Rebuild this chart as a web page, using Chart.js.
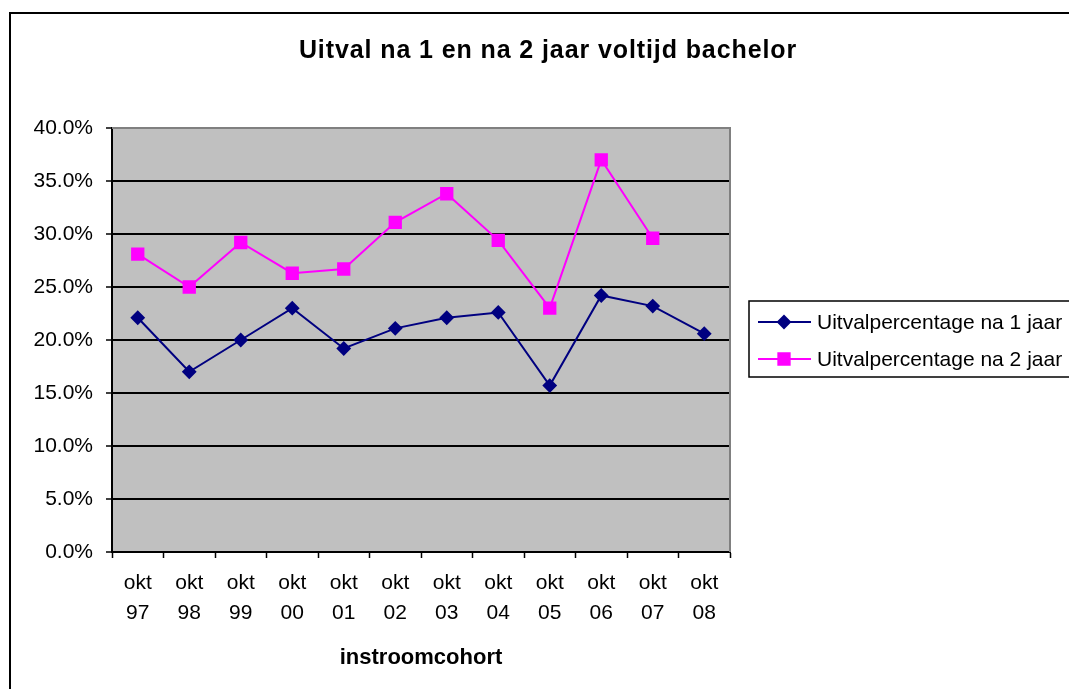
<!DOCTYPE html>
<html>
<head>
<meta charset="utf-8">
<title>Uitval na 1 en na 2 jaar voltijd bachelor</title>
<script src="https://cdn.jsdelivr.net/npm/chart.js@4.4.1/dist/chart.umd.min.js"></script>
<style>
  body { margin: 0; background: #fff; }
  #wrap { width: 1069px; height: 689px; }
</style>
</head>
<body>
<div id="wrap"><canvas id="uitvalChart" width="1069" height="689"></canvas></div>
<script>
// cohorts on the x axis, each label is two lines
const cohorts = [
  ['okt', '97'], ['okt', '98'], ['okt', '99'], ['okt', '00'], ['okt', '01'], ['okt', '02'],
  ['okt', '03'], ['okt', '04'], ['okt', '05'], ['okt', '06'], ['okt', '07'], ['okt', '08']
];

// dropout percentages
const uitvalNa1Jaar = [22.1, 17.0, 20.0, 23.0, 19.2, 21.1, 22.1, 22.6, 15.7, 24.2, 23.2, 20.6];
const uitvalNa2Jaar = [28.1, 25.0, 29.2, 26.3, 26.7, 31.1, 33.8, 29.4, 23.0, 37.0, 29.6, null];

const seriesLabels = ['Uitvalpercentage na 1 jaar', 'Uitvalpercentage na 2 jaar'];
const chartTitle = 'Uitval na 1 en na 2 jaar voltijd bachelor';
const xTitle = 'instroomcohort';

const yMin = 0;
const yMax = 40;
const yStep = 5;

const fontFamily = 'Arial, "Liberation Sans", sans-serif';

// grey plot background, grey top/right edge, outer frame and the title
const framePlugin = {
  id: 'frame',
  beforeDraw(chart) {
    const { ctx, chartArea: a } = chart;
    ctx.save();
    ctx.fillStyle = '#C0C0C0';
    ctx.fillRect(a.left, a.top, a.right - a.left, a.bottom - a.top);
    ctx.restore();
  },
  afterDraw(chart) {
    const { ctx, chartArea: a } = chart;
    ctx.save();
    // grey edge top and right of the plot
    ctx.strokeStyle = '#808080';
    ctx.lineWidth = 2;
    ctx.beginPath();
    ctx.moveTo(a.left, a.top);
    ctx.lineTo(a.right, a.top);
    ctx.lineTo(a.right, a.bottom);
    ctx.stroke();

    // outer chart frame (only left and top are in view)
    ctx.strokeStyle = '#000';
    ctx.lineWidth = 2;
    ctx.beginPath();
    ctx.moveTo(10, 700);
    ctx.lineTo(10, 13);
    ctx.lineTo(1080, 13);
    ctx.stroke();

    // title, excel spreads the bold letters a bit
    ctx.fillStyle = '#000';
    ctx.font = 'bold 25px ' + fontFamily;
    ctx.letterSpacing = '0.9px';
    ctx.textAlign = 'center';
    ctx.textBaseline = 'middle';
    ctx.fillText(chartTitle, 548, 51);
    ctx.restore();
  }
};

// legend box on the right, same look as excel
const legendPlugin = {
  id: 'excelLegend',
  afterDraw(chart) {
    const ctx = chart.ctx;
    ctx.save();
    ctx.strokeStyle = '#000';
    ctx.lineWidth = 1.5;
    ctx.strokeRect(749, 301, 340, 76);

    chart.data.datasets.forEach((ds, i) => {
      const y = 322 + i * 37;
      ctx.strokeStyle = ds.borderColor;
      ctx.lineWidth = 2;
      ctx.beginPath();
      ctx.moveTo(758, y);
      ctx.lineTo(811, y);
      ctx.stroke();

      ctx.fillStyle = ds.pointBackgroundColor;
      ctx.strokeStyle = ds.pointBorderColor;
      Chart.helpers.drawPoint(ctx, {
        pointStyle: ds.pointStyle,
        radius: ds.pointRadius,
        rotation: 0,
        borderWidth: 1
      }, 784, y);

      ctx.fillStyle = '#000';
      ctx.font = '21px ' + fontFamily;
      ctx.textAlign = 'left';
      ctx.textBaseline = 'middle';
      ctx.fillText(ds.label, 817, y + 1);
    });
    ctx.restore();
  }
};

const canvas = document.getElementById('uitvalChart');

new Chart(canvas, {
  type: 'line',
  data: {
    labels: cohorts,
    datasets: [
      {
        label: seriesLabels[0],
        data: uitvalNa1Jaar,
        borderColor: '#000080',
        backgroundColor: '#000080',
        pointBackgroundColor: '#000080',
        pointBorderColor: '#000080',
        pointStyle: 'rectRot',
        pointRadius: 6,
        borderWidth: 2,
        tension: 0
      },
      {
        label: seriesLabels[1],
        data: uitvalNa2Jaar,
        borderColor: '#FF00FF',
        backgroundColor: '#FF00FF',
        pointBackgroundColor: '#FF00FF',
        pointBorderColor: '#FF00FF',
        pointStyle: 'rect',
        pointRadius: 8,
        borderWidth: 2,
        tension: 0
      }
    ]
  },
  options: {
    responsive: false,
    animation: false,
    devicePixelRatio: 1,
    layout: {
      padding: { left: 0, top: 128, right: 339, bottom: 18 }
    },
    plugins: {
      legend: { display: false },
      title: { display: false },
      tooltip: { enabled: false }
    },
    scales: {
      x: {
        offset: true,
        grid: {
          offset: true,
          drawOnChartArea: false,
          drawTicks: true,
          tickLength: 6,
          tickColor: '#000',
          tickWidth: 1.5
        },
        border: { color: '#000', width: 2 },
        ticks: {
          color: '#000',
          padding: 10,
          maxRotation: 0,
          autoSkip: false,
          font: { family: fontFamily, size: 21, lineHeight: 30 / 21 }
        },
        title: {
          display: true,
          text: xTitle,
          color: '#000',
          padding: 0,
          font: { family: fontFamily, size: 22, weight: 'bold' }
        },
        afterFit(scale) { scale.height = 119; }
      },
      y: {
        min: yMin,
        max: yMax,
        grid: {
          color: ctx => (ctx.tick && ctx.tick.value === yMax ? 'transparent' : '#000'),
          lineWidth: 2,
          tickLength: 6,
          tickColor: '#000',
          tickWidth: 1.5
        },
        border: { color: '#000', width: 2 },
        ticks: {
          stepSize: yStep,
          color: '#000',
          padding: 13,
          font: { family: fontFamily, size: 21 },
          callback: v => v.toFixed(1) + '%'
        },
        afterFit(scale) { scale.width = 112; }
      }
    }
  },
  plugins: [framePlugin, legendPlugin]
});
</script>
</body>
</html>
